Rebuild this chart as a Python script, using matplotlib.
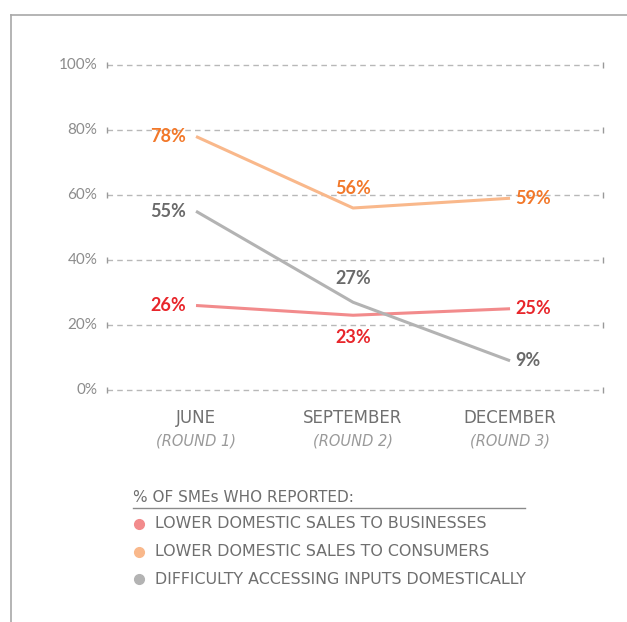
import matplotlib.pyplot as plt
from matplotlib.lines import Line2D

# data
months = ["JUNE", "SEPTEMBER", "DECEMBER"]
rounds = ["(ROUND 1)", "(ROUND 2)", "(ROUND 3)"]
businesses = [26, 23, 25]
consumers = [78, 56, 59]
inputs = [55, 27, 9]
series_names = ["LOWER DOMESTIC SALES TO BUSINESSES",
                "LOWER DOMESTIC SALES TO CONSUMERS",
                "DIFFICULTY ACCESSING INPUTS DOMESTICALLY"]
yticks = [0, 20, 40, 60, 80, 100]

line_colors = ["#f28b8c", "#f9b88b", "#b3b3b3"]
label_colors = ["#e8262b", "#f2782a", "#6a6a6a"]
# label offset (pixels) for the middle point of each series
mid_offsets = [-22, 19, 24]

plt.rcParams['font.family'] = ['Lato', 'DejaVu Sans']
caps_font = ['DejaVu Sans']

fig = plt.figure(figsize=(6.27, 6.22), dpi=100)
ax = fig.add_axes([107 / 627, 1 - 390 / 622, 496 / 627, 325 / 622])
x = list(range(len(months)))
ax.set_xlim(-0.567, 2.592)
ax.set_ylim(0, 100)
ax.axis("off")

# dashed grid with end caps
for t in yticks:
    ax.plot([-0.567, 2.592], [t, t], color="#b8b8b8", lw=1, ls=(0, (4, 3)), clip_on=False)
    ax.plot([-0.567, 2.592], [t, t], ls="none", marker="|", ms=5, color="#999999", clip_on=False)
    ax.annotate(f"{t}%", (-0.567, t), xytext=(-7, 0), textcoords="offset points",
                ha="right", va="center", fontsize=11, color="#8c8c8c")

for vals, lc, tc, off in zip([businesses, consumers, inputs], line_colors, label_colors, mid_offsets):
    ax.plot(x, vals, color=lc, lw=2.2, solid_capstyle="butt", clip_on=False)
    ax.annotate(f"{vals[0]}%", (x[0], vals[0]), xytext=(-7, 0), textcoords="offset points",
                ha="right", va="center", fontsize=13, fontweight="bold", color=tc)
    ax.annotate(f"{vals[1]}%", (x[1], vals[1]), xytext=(0, off * 0.72), textcoords="offset points",
                ha="center", va="center", fontsize=13, fontweight="bold", color=tc)
    ax.annotate(f"{vals[2]}%", (x[2], vals[2]), xytext=(4, 0), textcoords="offset points",
                ha="left", va="center", fontsize=13, fontweight="bold", color=tc)

for xi, m, r in zip(x, months, rounds):
    ax.annotate(m, (xi, 0), xytext=(0, -20.5), textcoords="offset points", ha="center",
                va="center", fontsize=12, color="#707070", family=caps_font)
    ax.annotate(r, (xi, 0), xytext=(0, -37), textcoords="offset points", ha="center",
                va="center", fontsize=10.5, color="#9a9a9a", style="italic", family=caps_font)

# legend
fig.text(133 / 627, 1 - 497 / 622, "% OF SMEs WHO REPORTED:", fontsize=11,
         color="#6f6f6f", va="center", ha="left", family=caps_font)
fig.add_artist(Line2D([133 / 627, 525 / 627], [1 - 508 / 622, 1 - 508 / 622],
                      color="#8a8a8a", lw=1))
for i, (name, c) in enumerate(zip(series_names, line_colors)):
    yy = 1 - (524 + i * 27.5) / 622
    fig.add_artist(Line2D([139 / 627], [yy], marker="o", ms=7, color=c, ls="none"))
    fig.text(155 / 627, yy, name, fontsize=11.4, color="#6f6f6f", va="center", ha="left",
             family=caps_font)

# frame
fig.add_artist(Line2D([11 / 627, 1], [1 - 15 / 622, 1 - 15 / 622], color="#a8a8a8", lw=1.2))
fig.add_artist(Line2D([11 / 627, 11 / 627], [1 - 15 / 622, 0], color="#a8a8a8", lw=1.2))

plt.savefig("out.png", dpi=100)
